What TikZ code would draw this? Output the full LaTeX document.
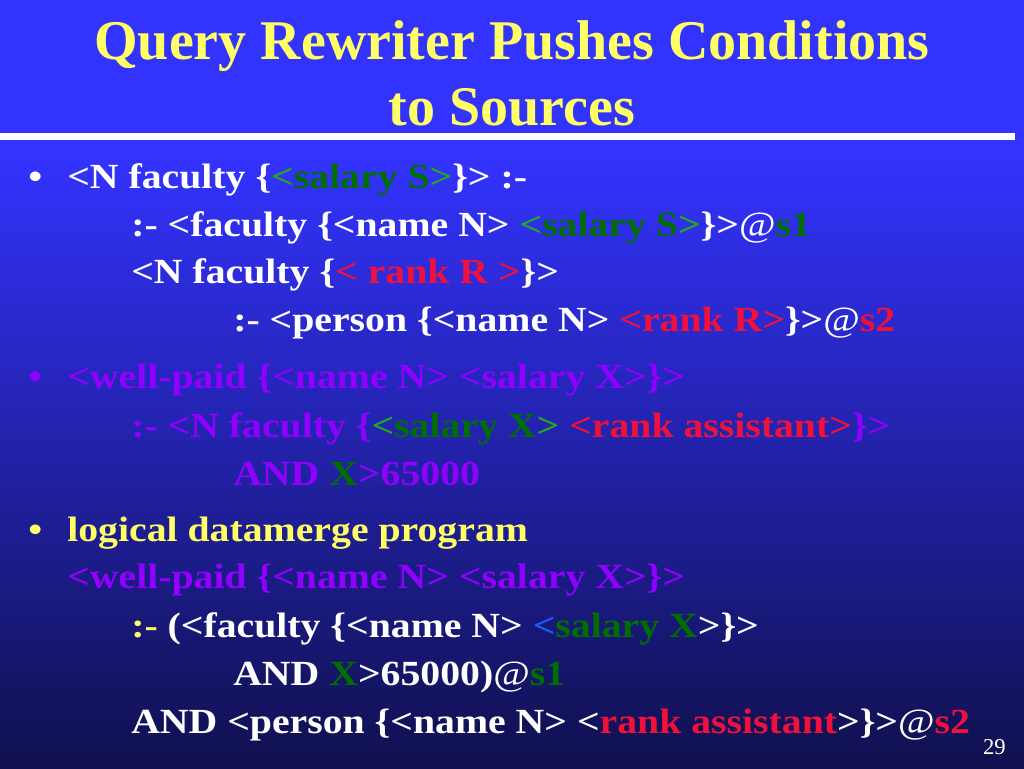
\documentclass[tikz,border=0pt]{standalone}
\usepackage{fontspec}
\setmainfont{Liberation Serif}
\newfontfamily\bodyfont[FakeStretch=1.125]{Liberation Serif}
\definecolor{bgtop}{HTML}{3333FF}
\definecolor{bgmid}{HTML}{2828C4}
\definecolor{bgbot}{HTML}{10104E}
\definecolor{yel}{HTML}{FFFF66}
\definecolor{grn}{HTML}{006E00}
\definecolor{grnb}{HTML}{22A822}
\definecolor{rd}{HTML}{F0103C}
\definecolor{prp}{HTML}{8F00FF}
\definecolor{blu}{HTML}{2255FF}
\newcommand{\myat}{\textmd{@}}
\begin{document}
\begin{tikzpicture}[x=0.75pt,y=-0.75pt,
  txt/.style={anchor=base west, inner sep=0pt, font=\bodyfont\fontsize{26.5}{30}\selectfont\bfseries, text=white},
  ttl/.style={anchor=base, inner sep=0pt, font=\fontsize{42}{48}\selectfont\bfseries, text=yel}]
\useasboundingbox (0,0) rectangle (1024,768);
\fill[bgtop] (0,0) rectangle (1024,150);
\shade[top color=bgtop, middle color=bgmid, bottom color=bgbot] (0,150) rectangle (1024,768);
\fill[white] (0,133) rectangle (1015,140);
\node[ttl] (t1) at (512,59) {Query Rewriter Pushes Conditions};
\node[ttl] (t2) at (512,125) {to Sources};
% section 1
\node[txt] (b1) at (28,188) {•};
\node[txt] (l1) at (67,188) {<N faculty \{\textcolor{grnb}{<}\textcolor{grn}{salary S}\textcolor{grnb}{>}\}> :-};
\node[txt] (l2) at (131,236) {:- <faculty \{<name N> \textcolor{grnb}{<}\textcolor{grn}{salary S}\textcolor{grnb}{>}\}>\myat\textcolor{grn}{s1}};
\node[txt] (l3) at (131,283) {<N faculty \{\textcolor{rd}{< rank R >}\}>};
\node[txt] (l4) at (233,331) {:- <person \{<name N> \textcolor{rd}{<rank R>}\}>\myat\textcolor{rd}{s2}};
% section 2
\node[txt, text=prp] (b2) at (28,388) {•};
\node[txt, text=prp] (l5) at (67,388) {<well-paid \{<name N> <salary X>\}>};
\node[txt, text=prp] (l6) at (131,437) {:- <N faculty \{\textcolor{grnb}{<}\textcolor{grn}{salary X}\textcolor{grnb}{>} \textcolor{rd}{<rank assistant>}\}>};
\node[txt, text=prp] (l7) at (233,485) {AND \textcolor{grn}{X}>65000};
% section 3
\node[txt, text=yel] (b3) at (28,541) {•};
\node[txt, text=yel] (l8) at (67,541) {logical datamerge program};
\node[txt, text=prp] (l9) at (67,588) {<well-paid \{<name N> <salary X>\}>};
\node[txt] (l10) at (131,637) {\textcolor{yel}{:-} (<faculty \{<name N> \textcolor{blu}{<}\textcolor{grn}{salary X}>\}>};
\node[txt] (l11) at (233,685) {AND \textcolor{grn}{X}>65000)\myat\textcolor{grn}{s1}};
\node[txt] (l12) at (131,733) {AND <person \{<name N> <\textcolor{rd}{rank assistant}>\}>\myat\textcolor{rd}{s2}};
\node[anchor=base east, inner sep=0pt, font=\fontsize{17}{20}\selectfont, text=white] (num) at (1006,754) {29};
\end{tikzpicture}
\end{document}
